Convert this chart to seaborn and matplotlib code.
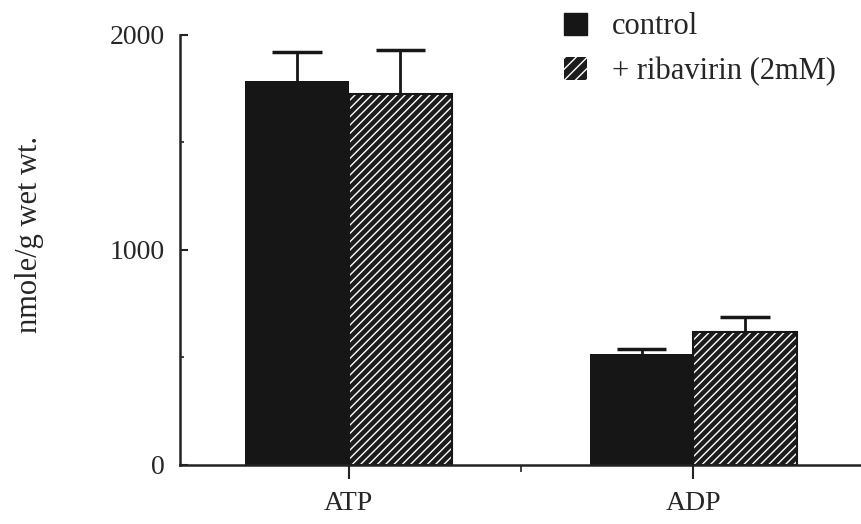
import numpy as np
import pandas as pd
import matplotlib
matplotlib.use('Agg')
import matplotlib.pyplot as plt
import seaborn as sns
from matplotlib.patches import Patch, Rectangle
from matplotlib.ticker import MultipleLocator

# values
categories = ['ATP', 'ADP']
groups = ['control', '+ ribavirin (2mM)']
control_vals = [1786, 515]
control_err = [135, 23]
ribavirin_vals = [1725, 617]
ribavirin_err = [205, 70]

df = pd.DataFrame({
    'nucleotide': categories * 2,
    'group': [groups[0]] * 2 + [groups[1]] * 2,
    'value': control_vals + ribavirin_vals,
})

sns.set_style('ticks')
plt.rcParams['font.family'] = ['Liberation Serif', 'DejaVu Serif']
plt.rcParams['hatch.linewidth'] = 1.0

ink = '#161616'

fig = plt.figure(figsize=(8.62, 5.24), dpi=100)
ax = fig.add_axes([180 / 862, 59.5 / 524, 682 / 862, 429.5 / 524])

sns.barplot(data=df, x='nucleotide', y='value', hue='group', order=categories,
            hue_order=groups, palette=[ink, '#1c1c1c'], width=0.6,
            saturation=1, errorbar=None, legend=False, ax=ax)

# hatch the ribavirin bars (white stripes on dark), keep a dark outline
for bar in ax.containers[1]:
    bar.set_hatch('////')
    bar.set_edgecolor('white')
    bar.set_linewidth(0)
    ax.add_patch(Rectangle(bar.get_xy(), bar.get_width(), bar.get_height(),
                           fill=False, edgecolor=ink, linewidth=1.5, zorder=bar.get_zorder()))
for bar in ax.containers[0]:
    bar.set_linewidth(0)

# upward-only error bars with a cap
for container, errs in zip(ax.containers, [control_err, ribavirin_err]):
    for bar, e in zip(container, errs):
        xc = bar.get_x() + bar.get_width() / 2
        top = bar.get_height()
        half = bar.get_width() * 0.24
        ax.vlines(xc, top, top + e, color=ink, linewidth=2, zorder=1)
        ax.hlines(top + e, xc - half, xc + half, color=ink, linewidth=2.5, zorder=1)

ax.set_xlim(-0.49, 1.49)
ax.set_ylim(0, 2000)
ax.set_yticks([0, 1000, 2000])
ax.yaxis.set_minor_locator(MultipleLocator(500))
ax.xaxis.set_minor_locator(MultipleLocator(0.5))
ax.tick_params(axis='y', which='major', direction='in', length=6, width=1.5,
               pad=11, labelsize=20, color='#222222')
ax.tick_params(axis='y', which='minor', direction='in', length=3, width=1.2,
               color='#222222')
ax.tick_params(axis='x', which='major', direction='out', length=10, width=1.5,
               pad=9, labelsize=20, color='#222222')
ax.tick_params(axis='x', which='minor', direction='out', length=5, width=1.2,
               color='#222222')

ax.set_xlabel('')
ax.set_ylabel('nmole/g wet wt.', fontsize=22)
ax.yaxis.set_label_coords(-0.2, 0.535)

sns.despine(ax=ax)
for side in ['left', 'bottom']:
    ax.spines[side].set_linewidth(1.8)
    ax.spines[side].set_color('#222222')

handles = [Patch(facecolor=ink, edgecolor=ink, label=groups[0]),
           Patch(facecolor='#1c1c1c', edgecolor='white', hatch='///', linewidth=0,
                 label=groups[1])]
fig.legend(handles=handles, loc='upper left', bbox_to_anchor=(543 / 862, 1.017),
           frameon=False, fontsize=22, handlelength=0.75, handleheight=0.75,
           handletextpad=0.8, labelspacing=0.5, borderaxespad=0.3)

fig.savefig('out.png', dpi=100, facecolor='white')
